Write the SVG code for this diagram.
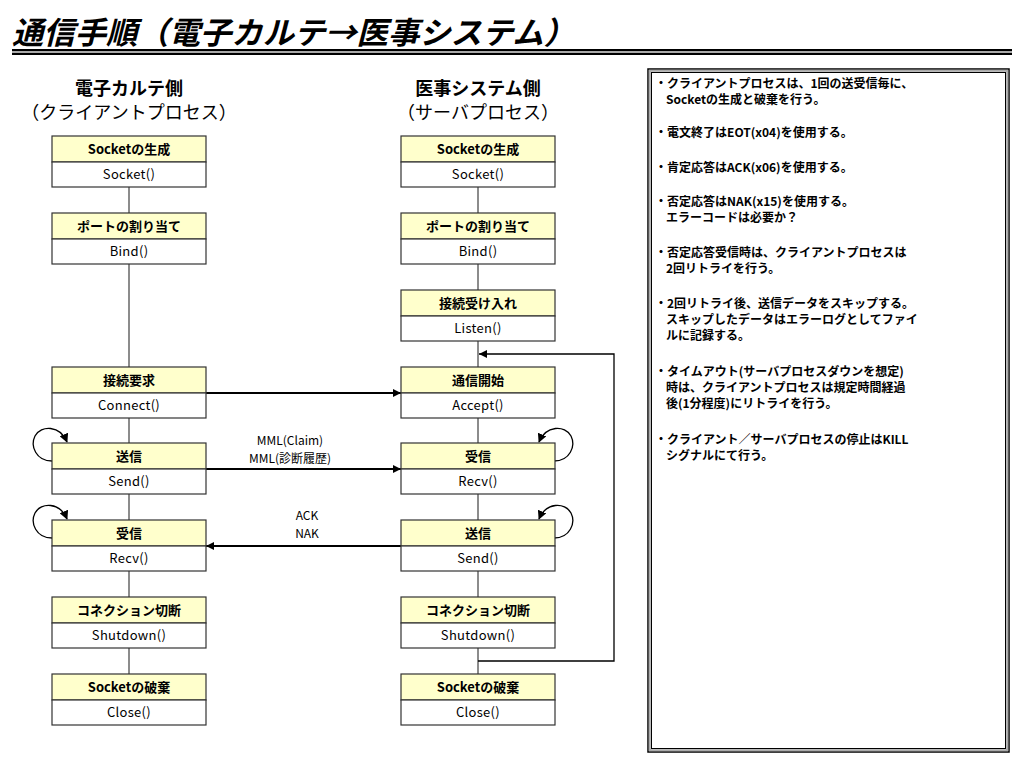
<svg xmlns="http://www.w3.org/2000/svg" width="1024" height="768" viewBox="0 0 1024 768">
<defs>
<style>
text{font-family:"Noto Sans CJK JP","Noto Sans",sans-serif;fill:#000}
.title{font-size:31px;font-weight:bold;font-style:italic}
.col1{font-size:18px;font-weight:bold;text-anchor:middle}
.col2{font-size:18px;text-anchor:middle}
.hd{fill:#FFFFCC;stroke:#333;stroke-width:1.2}
.bd{fill:#fff;stroke:#333;stroke-width:1.2}
.ht{font-size:13px;font-weight:bold;text-anchor:middle}
.bt{font-size:13px;text-anchor:middle;letter-spacing:0.3px}
.vl{stroke:#666;stroke-width:1.5;fill:none}
.ar{stroke:#000;stroke-width:2;fill:none}
.lp{stroke:#000;stroke-width:1.3;fill:none}
.lbl{font-size:12px;text-anchor:middle}
.nt{font-size:12px;font-weight:bold}
</style>
<marker id="ah" viewBox="0 0 10 10" refX="10" refY="5" markerWidth="8" markerHeight="8" markerUnits="userSpaceOnUse" orient="auto">
<path d="M0,0 L10,5 L0,10 z" fill="#000"/>
</marker>
<marker id="ahs" viewBox="0 0 10 10" refX="9" refY="5" markerWidth="9" markerHeight="9" markerUnits="userSpaceOnUse" orient="auto">
<path d="M0,0 L10,5 L0,10 z" fill="#000"/>
</marker>
</defs>
<rect width="1024" height="768" fill="#fff"/>

<g id="title">
<text class="title" x="12" y="44" textLength="563" lengthAdjust="spacingAndGlyphs">通信手順（電子カルテ→医事システム）</text>
<rect x="12" y="49" width="1000" height="6" fill="#000"/>
<rect x="12" y="51" width="1000" height="2" fill="#aaa"/>
</g>

<g id="col-titles">
<text class="col1" x="129" y="95">電子カルテ側</text>
<text class="col2" x="129" y="119">（クライアントプロセス）</text>
<text class="col1" x="478" y="95">医事システム側</text>
<text class="col2" x="478" y="119">（サーバプロセス）</text>
</g>

<g id="connectors">
<line class="vl" x1="129" y1="187" x2="129" y2="213"/>
<line class="vl" x1="129" y1="264" x2="129" y2="367"/>
<line class="vl" x1="129" y1="418" x2="129" y2="443"/>
<line class="vl" x1="129" y1="494" x2="129" y2="520"/>
<line class="vl" x1="129" y1="571" x2="129" y2="597"/>
<line class="vl" x1="129" y1="648" x2="129" y2="674"/>
<line class="vl" x1="478" y1="187" x2="478" y2="213"/>
<line class="vl" x1="478" y1="264" x2="478" y2="290"/>
<line class="vl" x1="478" y1="341" x2="478" y2="367"/>
<line class="vl" x1="478" y1="418" x2="478" y2="443"/>
<line class="vl" x1="478" y1="494" x2="478" y2="520"/>
<line class="vl" x1="478" y1="571" x2="478" y2="597"/>
<line class="vl" x1="478" y1="648" x2="478" y2="674"/>
<line class="ar" x1="206" y1="393" x2="401" y2="393" marker-end="url(#ah)"/>
<line class="ar" x1="206" y1="469" x2="401" y2="469" marker-end="url(#ah)"/>
<line class="ar" x1="401" y1="546" x2="206" y2="546" marker-end="url(#ah)"/>
<polyline class="lp" points="478,661 614,661 614,354 479,354" marker-end="url(#ah)"/>
<path class="lp" d="M52,461 C36,461 30,446 35,436 C41,425 60,425 67,442" marker-end="url(#ahs)"/>
<path class="lp" d="M554,461 C570,461 576,446 571,436 C565,425 546,425 539,442" marker-end="url(#ahs)"/>
<path class="lp" d="M52,538 C36,538 30,523 35,513 C41,502 60,502 67,519" marker-end="url(#ahs)"/>
<path class="lp" d="M554,538 C570,538 576,523 571,513 C565,502 546,502 539,519" marker-end="url(#ahs)"/>
<text class="lbl" x="290" y="445">MML(Claim)</text>
<text class="lbl" x="290" y="463">MML(診断履歴)</text>
<text class="lbl" x="307" y="520">ACK</text>
<text class="lbl" x="307" y="538">NAK</text>
</g>

<g id="c-socket"><rect class="hd" x="52" y="136" width="154" height="26"/><rect class="bd" x="52" y="162" width="154" height="25"/><text class="ht" x="129" y="154">Socketの生成</text><text class="bt" x="129" y="179">Socket()</text></g>
<g id="c-bind"><rect class="hd" x="52" y="213" width="154" height="26"/><rect class="bd" x="52" y="239" width="154" height="25"/><text class="ht" x="129" y="231">ポートの割り当て</text><text class="bt" x="129" y="256">Bind()</text></g>
<g id="c-connect"><rect class="hd" x="52" y="367" width="154" height="26"/><rect class="bd" x="52" y="393" width="154" height="25"/><text class="ht" x="129" y="385">接続要求</text><text class="bt" x="129" y="410">Connect()</text></g>
<g id="c-send"><rect class="hd" x="52" y="443" width="154" height="26"/><rect class="bd" x="52" y="469" width="154" height="25"/><text class="ht" x="129" y="461">送信</text><text class="bt" x="129" y="486">Send()</text></g>
<g id="c-recv"><rect class="hd" x="52" y="520" width="154" height="26"/><rect class="bd" x="52" y="546" width="154" height="25"/><text class="ht" x="129" y="538">受信</text><text class="bt" x="129" y="563">Recv()</text></g>
<g id="c-shutdown"><rect class="hd" x="52" y="597" width="154" height="26"/><rect class="bd" x="52" y="623" width="154" height="25"/><text class="ht" x="129" y="615">コネクション切断</text><text class="bt" x="129" y="640">Shutdown()</text></g>
<g id="c-close"><rect class="hd" x="52" y="674" width="154" height="26"/><rect class="bd" x="52" y="700" width="154" height="25"/><text class="ht" x="129" y="692">Socketの破棄</text><text class="bt" x="129" y="717">Close()</text></g>

<g id="s-socket"><rect class="hd" x="401" y="136" width="154" height="26"/><rect class="bd" x="401" y="162" width="154" height="25"/><text class="ht" x="478" y="154">Socketの生成</text><text class="bt" x="478" y="179">Socket()</text></g>
<g id="s-bind"><rect class="hd" x="401" y="213" width="154" height="26"/><rect class="bd" x="401" y="239" width="154" height="25"/><text class="ht" x="478" y="231">ポートの割り当て</text><text class="bt" x="478" y="256">Bind()</text></g>
<g id="s-listen"><rect class="hd" x="401" y="290" width="154" height="26"/><rect class="bd" x="401" y="316" width="154" height="25"/><text class="ht" x="478" y="308">接続受け入れ</text><text class="bt" x="478" y="333">Listen()</text></g>
<g id="s-accept"><rect class="hd" x="401" y="367" width="154" height="26"/><rect class="bd" x="401" y="393" width="154" height="25"/><text class="ht" x="478" y="385">通信開始</text><text class="bt" x="478" y="410">Accept()</text></g>
<g id="s-recv"><rect class="hd" x="401" y="443" width="154" height="26"/><rect class="bd" x="401" y="469" width="154" height="25"/><text class="ht" x="478" y="461">受信</text><text class="bt" x="478" y="486">Recv()</text></g>
<g id="s-send"><rect class="hd" x="401" y="520" width="154" height="26"/><rect class="bd" x="401" y="546" width="154" height="25"/><text class="ht" x="478" y="538">送信</text><text class="bt" x="478" y="563">Send()</text></g>
<g id="s-shutdown"><rect class="hd" x="401" y="597" width="154" height="26"/><rect class="bd" x="401" y="623" width="154" height="25"/><text class="ht" x="478" y="615">コネクション切断</text><text class="bt" x="478" y="640">Shutdown()</text></g>
<g id="s-close"><rect class="hd" x="401" y="674" width="154" height="26"/><rect class="bd" x="401" y="700" width="154" height="25"/><text class="ht" x="478" y="692">Socketの破棄</text><text class="bt" x="478" y="717">Close()</text></g>

<g id="notes">
<rect x="648" y="69" width="361" height="683" fill="#fff" stroke="#000" stroke-width="1.5"/>
<rect x="649.8" y="70.8" width="357.4" height="679.4" fill="none" stroke="#aaa" stroke-width="2"/>
<rect x="651.5" y="72.5" width="354" height="676" fill="none" stroke="#000" stroke-width="1"/>
<text class="nt" x="655" y="88">・クライアントプロセスは、1回の送受信毎に、</text>
<text class="nt" x="666" y="104">Socketの生成と破棄を行う。</text>
<text class="nt" x="655" y="137">・電文終了はEOT(x04)を使用する。</text>
<text class="nt" x="655" y="172">・肯定応答はACK(x06)を使用する。</text>
<text class="nt" x="655" y="206">・否定応答はNAK(x15)を使用する。</text>
<text class="nt" x="666" y="222">エラーコードは必要か？</text>
<text class="nt" x="655" y="257">・否定応答受信時は、クライアントプロセスは</text>
<text class="nt" x="666" y="273">2回リトライを行う。</text>
<text class="nt" x="655" y="308">・2回リトライ後、送信データをスキップする。</text>
<text class="nt" x="666" y="324">スキップしたデータはエラーログとしてファイ</text>
<text class="nt" x="666" y="340">ルに記録する。</text>
<text class="nt" x="655" y="376">・タイムアウト(サーバプロセスダウンを想定)</text>
<text class="nt" x="666" y="392">時は、クライアントプロセスは規定時間経過</text>
<text class="nt" x="666" y="408">後(1分程度)にリトライを行う。</text>
<text class="nt" x="655" y="444">・クライアント／サーバプロセスの停止はKILL</text>
<text class="nt" x="666" y="460">シグナルにて行う。</text>
</g>
</svg>
